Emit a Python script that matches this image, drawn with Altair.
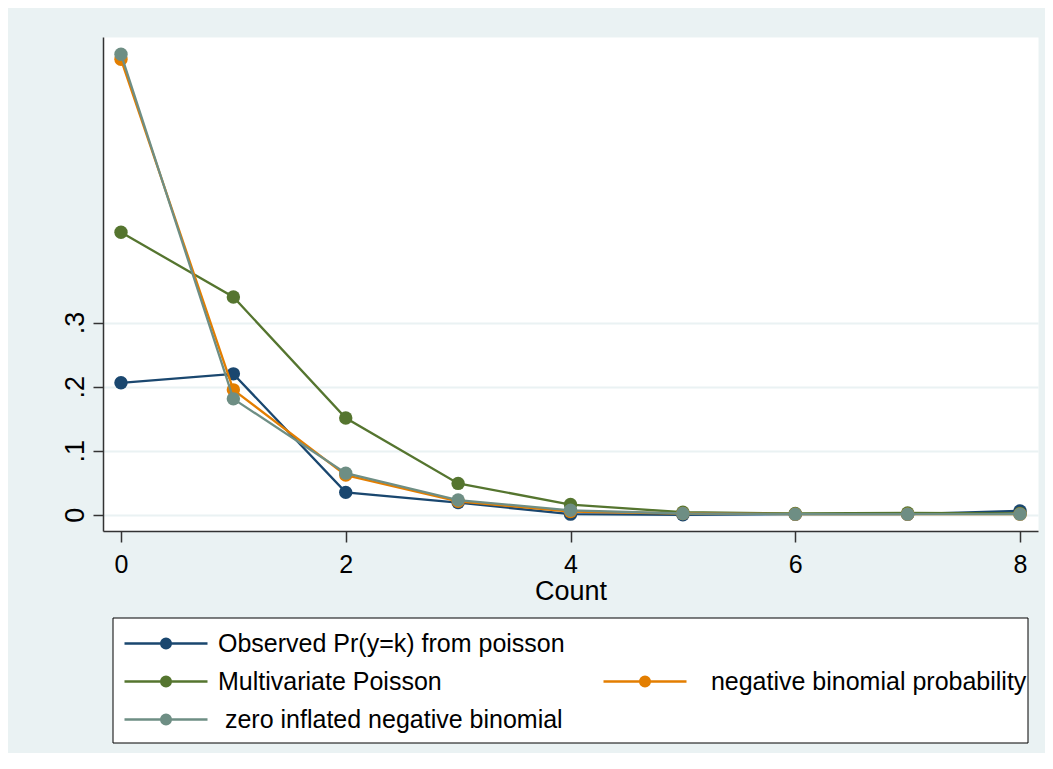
import altair as alt
import pandas as pd

# ---- data ----
counts = [0, 1, 2, 3, 4, 5, 6, 7, 8]
observed = [0.206, 0.220, 0.035, 0.019, 0.001, 0.000, 0.001, 0.001, 0.006]
mv_poisson = [0.441, 0.340, 0.151, 0.049, 0.016, 0.004, 0.002, 0.003, 0.002]
neg_binomial = [0.711, 0.195, 0.062, 0.021, 0.005, 0.002, 0.001, 0.001, 0.001]
zinb = [0.719, 0.181, 0.065, 0.023, 0.007, 0.002, 0.001, 0.001, 0.001]

# leading gap of the original labels (zero-width guard keeps the no-break spaces)
LEAD1 = "\u200b\u00a0"
LEAD2 = "\u200b\u00a0\u00a0"
series_names = [
    "Observed Pr(y=k) from poisson",
    "Multivariate Poisson",
    LEAD2 + "negative binomial probability",
    LEAD1 + "zero inflated negative binomial",
]
series_values = [observed, mv_poisson, neg_binomial, zinb]
series_colors = ["#1A476F", "#55752F", "#E37E00", "#6E8E84"]

x_ticks = [0, 2, 4, 6, 8]
y_ticks = [0, 0.1, 0.2, 0.3]

# legend slots (column-major, 3 rows x 2 columns): empty slot at top of column 2
BLANK = " "
legend_domain = [series_names[0], series_names[1], series_names[3], BLANK, series_names[2]]
legend_range = [series_colors[0], series_colors[1], series_colors[3], "transparent", series_colors[2]]

rows = []
for name, vals in zip(series_names, series_values):
    for k, v in zip(counts, vals):
        rows.append({"count": k, "prob": v, "series": name})
df = pd.DataFrame(rows)

FONT = "Liberation Sans"
BG = "#EAF2F3"
AXC = "#333333"

# legend symbol: line with a filled dot in the middle
sym_path = (
    "M-1,0L1,0 "
    "M0.117,0A0.117,0.117,0,1,1,-0.117,0A0.117,0.117,0,1,1,0.117,0Z "
    "M0.0614,0A0.0614,0.0614,0,1,1,-0.0614,0A0.0614,0.0614,0,1,1,0.0614,0Z "
    "M0.012,0A0.012,0.012,0,1,1,-0.012,0A0.012,0.012,0,1,1,0.012,0Z"
)

x_enc = alt.X(
    "count:Q",
    scale=alt.Scale(domain=[-0.16, 8.16], nice=False, zero=False),
    axis=alt.Axis(
        values=x_ticks, format="d", title="Count", grid=False,
        domainColor=AXC, domainWidth=1.5, tickColor=AXC, tickWidth=1.5, tickSize=11,
        labelFont=FONT, labelFontSize=25, labelColor="black", labelPadding=10,
        titleFont=FONT, titleFontSize=27, titleFontWeight="normal", titleColor="black",
        titleBaseline="alphabetic", titleY=68,
    ),
)
y_enc = alt.Y(
    "prob:Q",
    scale=alt.Scale(domain=[-0.0253, 0.7458], nice=False, zero=False),
    axis=alt.Axis(
        values=y_ticks, title=None, grid=True, gridColor=BG, gridWidth=2,
        labelExpr="datum.value == 0 ? '0' : replace(format(datum.value, '.1f'), '0.', '.')",
        labelAngle=270, labelAlign="center", labelBaseline="alphabetic",
        domainColor=AXC, domainWidth=1.5, tickColor=AXC, tickWidth=1.5, tickSize=10,
        labelFont=FONT, labelFontSize=27, labelColor="black", labelPadding=10,
    ),
)
color_enc = alt.Color(
    "series:N",
    scale=alt.Scale(domain=legend_domain, range=legend_range),
    legend=alt.Legend(
        title=None, orient="none", legendX=20, legendY=593, columns=2,
        columnPadding=37, rowPadding=11, padding=0, clipHeight=27,
        symbolType=sym_path, symbolSize=6889, symbolStrokeWidth=2.3, symbolOpacity=1,
        labelFont=FONT, labelFontSize=25, labelColor="black", labelOffset=9, labelLimit=0,
    ),
)

frame = alt.Chart(pd.DataFrame({"f": [0]})).mark_rect(
    fill="white", stroke="black", strokeWidth=1
).encode(x=alt.value(10), x2=alt.value(925), y=alt.value(581), y2=alt.value(706))

layers = [frame]
for name in series_names:
    layers.append(
        alt.Chart(df)
        .transform_filter(alt.datum.series == name)
        .mark_line(strokeWidth=2.3, point=alt.OverlayMarkDef(filled=True, size=180, opacity=1))
        .encode(x=x_enc, y=y_enc, color=color_enc)
    )

chart = (
    alt.layer(*layers)
    .properties(
        width=935, height=494,
        autosize=alt.AutoSizeParams(type="none"),
        padding={"left": 95, "top": 29, "right": 7, "bottom": 222},
        background=BG,
    )
    .configure_view(fill="white", stroke="transparent")
)

chart.save("out.html", embed_options={"renderer": "svg", "actions": False})
